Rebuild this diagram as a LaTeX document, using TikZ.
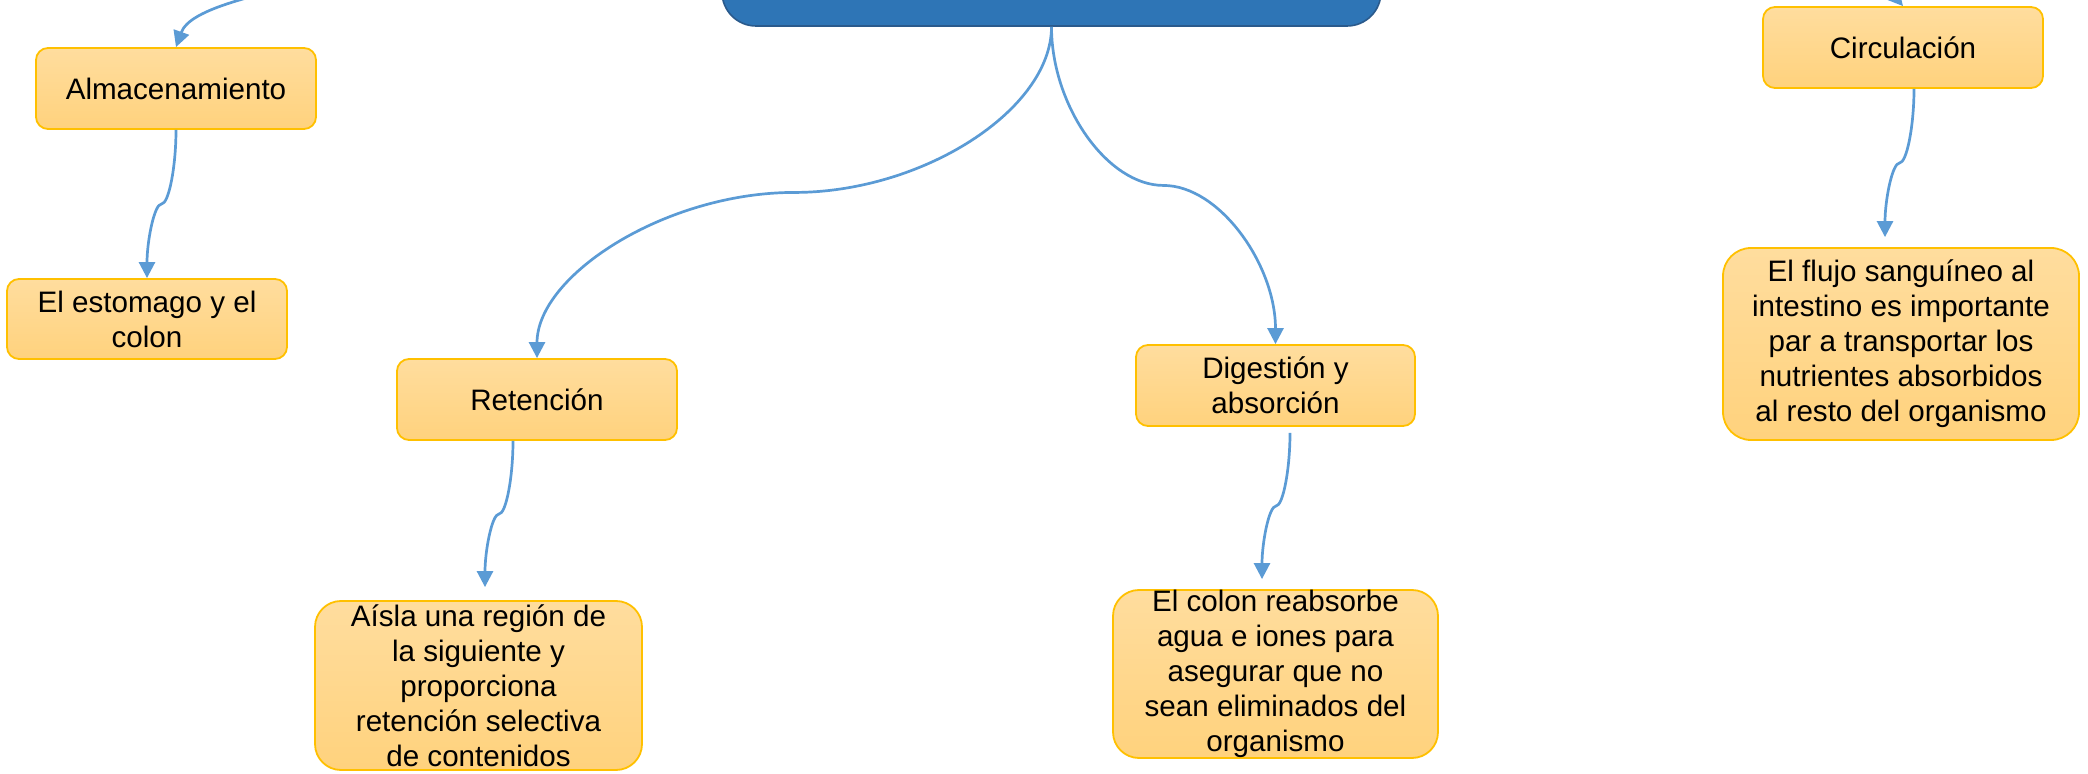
\documentclass[tikz,border=0pt]{standalone}
\usepackage{fontspec}
\setmainfont{Liberation Sans}
\usetikzlibrary{calc,arrows.meta}
\definecolor{lineblue}{HTML}{5B9BD5}
\definecolor{boxtop}{HTML}{FFDD9E}
\definecolor{boxbot}{HTML}{FFD27D}
\definecolor{boxline}{HTML}{FFC000}
\definecolor{titlefill}{HTML}{2E75B6}
\definecolor{titleline}{HTML}{2A5A8C}
\begin{document}
\begin{tikzpicture}[x=0.5pt,y=-0.5pt,
  box/.style={rectangle, rounded corners=6pt, draw=boxline, line width=0.9pt,
    top color=boxtop, bottom color=boxbot, inner sep=0pt, align=center,
    font=\fontsize{14.8pt}{17.5pt}\selectfont, text=black},
  bigbox/.style={box, rounded corners=13pt},
  conn/.style={draw=lineblue, line width=1.35pt, -{Triangle[length=8pt,width=8pt]}},
  sconn/.style={conn, to path={let \p1=(\tikztostart), \p2=(\tikztotarget) in
     .. controls (\x1,{0.75*\y1+0.25*\y2}) and ({0.75*\x1+0.25*\x2},{0.5*\y1+0.5*\y2})
     .. ({0.5*\x1+0.5*\x2},{0.5*\y1+0.5*\y2})
     .. controls ({0.25*\x1+0.75*\x2},{0.5*\y1+0.5*\y2}) and (\x2,{0.25*\y1+0.75*\y2})
     .. (\tikztotarget)}}
]
\useasboundingbox (0,0) rectangle (2088,774);
\clip (0,0) rectangle (2088,774);

% title box (text cut off above the frame)
\node[draw=titleline, fill=titlefill, rounded corners=17pt, line width=0.8pt,
      minimum width=329.5pt, minimum height=60pt, inner sep=0pt] (ti) at (1051.5,-34) {};

% boxes
\node[box, minimum width=140pt, minimum height=40.5pt] (alm) at (176,88.5) {Almacenamiento};
\node[box, minimum width=140pt, minimum height=40pt] (est) at (147,319) {El estomago y el\\colon};
\node[box, minimum width=140pt, minimum height=40.5pt] (ret) at (537,399.5) {Retención};
\node[bigbox, minimum width=163.5pt, minimum height=84.5pt] (aisla) at (478.5,685.5)
  {Aísla una región de\\la siguiente y\\proporciona\\retención selectiva\\de contenidos};
\node[box, minimum width=139.5pt, minimum height=40.5pt] (dig) at (1275.5,385.5) {Digestión y\\absorción};
\node[bigbox, minimum width=162.5pt, minimum height=84pt] (colon) at (1275.5,674)
  {El colon reabsorbe\\agua e iones para\\asegurar que no\\sean eliminados del\\organismo};
\node[box, minimum width=140pt, minimum height=40.5pt] (circ) at (1903,47.5) {Circulación};
\node[bigbox, rounded corners=14pt, minimum width=178pt, minimum height=96pt] (flujo) at (1901,344)
  {El flujo sanguíneo al\\intestino es importante\\par a transportar los\\nutrientes absorbidos\\al resto del organismo};

% connector end points
\coordinate (rootL) at (330,-22);
\coordinate (rootR) at (1760,-50);
\coordinate (retOut) at ($(ret.south)+(-24,0)$);
\coordinate (aislaIn) at ($(aisla.north)+(6.5,-13)$);
\coordinate (digOut) at ($(dig.south)+(14.5,6)$);
\coordinate (colonIn) at ($(colon.north)+(-13.5,-10)$);
\coordinate (circOut) at ($(circ.south)+(11,0)$);
\coordinate (flujoIn) at ($(flujo.north)+(-16,-10)$);

% connectors
\draw[sconn] (ti.south) to (ret.north);
\draw[sconn] (ti.south) to (dig.north);
\draw[sconn] (alm.south) to (est.north);
\draw[sconn] (retOut) to (aislaIn);
\draw[sconn] (digOut) to (colonIn);
\draw[sconn] (circOut) to (flujoIn);
\draw[conn] (rootL) .. controls (260,-6) and (190,8) .. (alm.north);
\draw[conn] (rootR) .. controls (1840,-40) and (1883,-17) .. (circ.north);
\end{tikzpicture}
\end{document}
